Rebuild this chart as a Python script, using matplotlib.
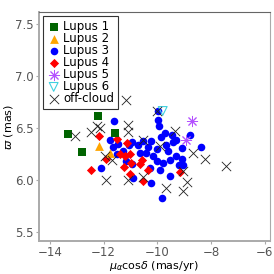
import matplotlib
matplotlib.use("Agg")
import matplotlib.pyplot as plt

plt.rcParams["mathtext.fontset"] = "dejavusans"
plt.rcParams["font.family"] = ["DejaVu Sans"]

# Lupus 1
l1_pm = [-12.20, -13.32, -12.82, -11.57]
l1_plx = [6.61, 6.44, 6.27, 6.45]

# Lupus 2
l2_pm = [-12.18, -11.77]
l2_plx = [6.32, 6.26]

# Lupus 3
l3_pm = [-11.61, -12.08, -11.77, -11.52, -9.99, -9.97, -9.94, -8.80, -9.29, -9.10,
         -8.39, -9.85, -9.66, -9.60, -10.22, -10.35, -10.41, -10.16, -10.03, -9.80,
         -9.54, -9.29, -10.53, -10.72, -10.65, -11.46, -11.28, -11.65, -11.15, -10.96,
         -10.28, -9.91, -10.90, -9.08, -9.20, -9.54, -10.25, -9.84, -9.42, -10.02,
         -11.06, -9.06, -9.72, -9.46, -10.96]
l3_plx = [6.56, 6.11, 6.38, 6.25, 6.66, 6.57, 6.52, 6.43, 6.38, 6.30,
          6.31, 6.41, 6.33, 6.28, 6.375, 6.31, 6.26, 6.23, 6.18, 6.16,
          6.19, 6.23, 6.375, 6.33, 6.26, 6.34, 6.28, 6.31, 6.18, 6.15,
          6.11, 6.09, 6.02, 6.20, 6.14, 6.04, 5.97, 5.82, 6.36, 6.29,
          6.33, 6.14, 6.45, 6.43, 6.36]

# Lupus 4
l4_pm = [-12.19, -12.48, -11.93, -11.51, -11.13, -11.40, -11.21, -11.03, -11.25, -10.99,
         -10.59, -10.65, -10.35, -10.55, -11.00, -9.16]
l4_plx = [6.42, 6.09, 6.20, 6.39, 6.35, 6.25, 6.23, 6.25, 6.125, 6.16,
          6.19, 6.15, 6.09, 5.99, 6.055, 6.07]

# Lupus 5
l5_pm = [-8.70, -8.92]
l5_plx = [6.56, 6.38]

# Lupus 6
l6_pm = [-9.80]
l6_plx = [6.66]

# off-cloud
off_pm = [-13.07, -12.48, -12.26, -12.12, -11.17, -11.09, -11.09, -11.92, -11.11, -10.00,
          -9.35, -10.53, -10.53, -9.66, -8.67, -8.23, -7.45, -9.03, -8.90, -9.04,
          -11.94, -11.68, -9.91]
off_plx = [6.42, 6.46, 6.52, 6.50, 6.77, 6.53, 6.46, 6.00, 6.00, 6.66,
           6.47, 6.38, 6.03, 5.92, 6.26, 6.20, 6.13, 6.08, 5.98, 5.89,
           6.23, 6.19, 6.32]

fig = plt.figure(figsize=(2.74, 2.74), dpi=100)
ax = fig.add_axes([0.142, 0.120, 0.843, 0.836])

ax.scatter(l3_pm, l3_plx, s=30, marker="o", color="#0000FF", linewidths=0, label="Lupus 3", zorder=2)
ax.scatter(l4_pm, l4_plx, s=22, marker="D", color="#FF0000", linewidths=0, label="Lupus 4", zorder=3)
ax.scatter(l1_pm, l1_plx, s=30, marker="s", color="#006400", linewidths=0, label="Lupus 1", zorder=3)
ax.scatter(l2_pm, l2_plx, s=40, marker="^", color="#FFA500", linewidths=0, label="Lupus 2", zorder=3)
ax.scatter(l5_pm, l5_plx, s=55, marker=(8, 2, 0), color="#B452FF", linewidths=0.7, label="Lupus 5", zorder=3)
ax.scatter(l6_pm, l6_plx, s=40, marker="v", facecolors="none", edgecolors="#40D0E0", linewidths=0.8, label="Lupus 6", zorder=3)
ax.scatter(off_pm, off_plx, s=45, marker="x", color="#202020", linewidths=0.6, label="off-cloud", zorder=4)

ax.set_xlim(-14.41, -5.81)
ax.set_ylim(5.41, 7.61)
ax.set_xticks([-14, -12, -10, -8, -6])
ax.set_yticks([5.5, 6.0, 6.5, 7.0, 7.5])
ax.set_xticklabels(["\u221214", "\u221212", "\u221210", "\u22128", "\u22126"])
ax.set_yticklabels(["5.5", "6.0", "6.5", "7.0", "7.5"])
ax.tick_params(colors="#AAAAAA", labelcolor="#555555", labelsize=8.5, length=2, width=0.8, pad=1.5)

for side in ["left", "bottom", "right"]:
    ax.spines[side].set_color("#AAAAAA")
ax.spines["left"].set_linewidth(1.4)
ax.spines["bottom"].set_linewidth(1.4)
ax.spines["right"].set_linewidth(0.8)
ax.spines["top"].set_color("#666666")
ax.spines["top"].set_linewidth(0.8)

ax.set_xlabel(r"$\mu_\alpha$cos$\delta$ (mas/yr)", fontsize=8, labelpad=0)
ax.set_ylabel(r"$\varpi$ (mas)", fontsize=8, labelpad=0)

handles, labels = ax.get_legend_handles_labels()
order = ["Lupus 1", "Lupus 2", "Lupus 3", "Lupus 4", "Lupus 5", "Lupus 6", "off-cloud"]
hmap = dict(zip(labels, handles))
leg = ax.legend([hmap[k] for k in order], order, loc="upper left", fontsize=8.5,
                frameon=True, fancybox=False, edgecolor="#333333", framealpha=1,
                handletextpad=0.2, labelspacing=-0.08, borderpad=0.3,
                handlelength=1.2, borderaxespad=0.35)
leg.get_frame().set_linewidth(0.8)

fig.savefig("out.png", dpi=100)
